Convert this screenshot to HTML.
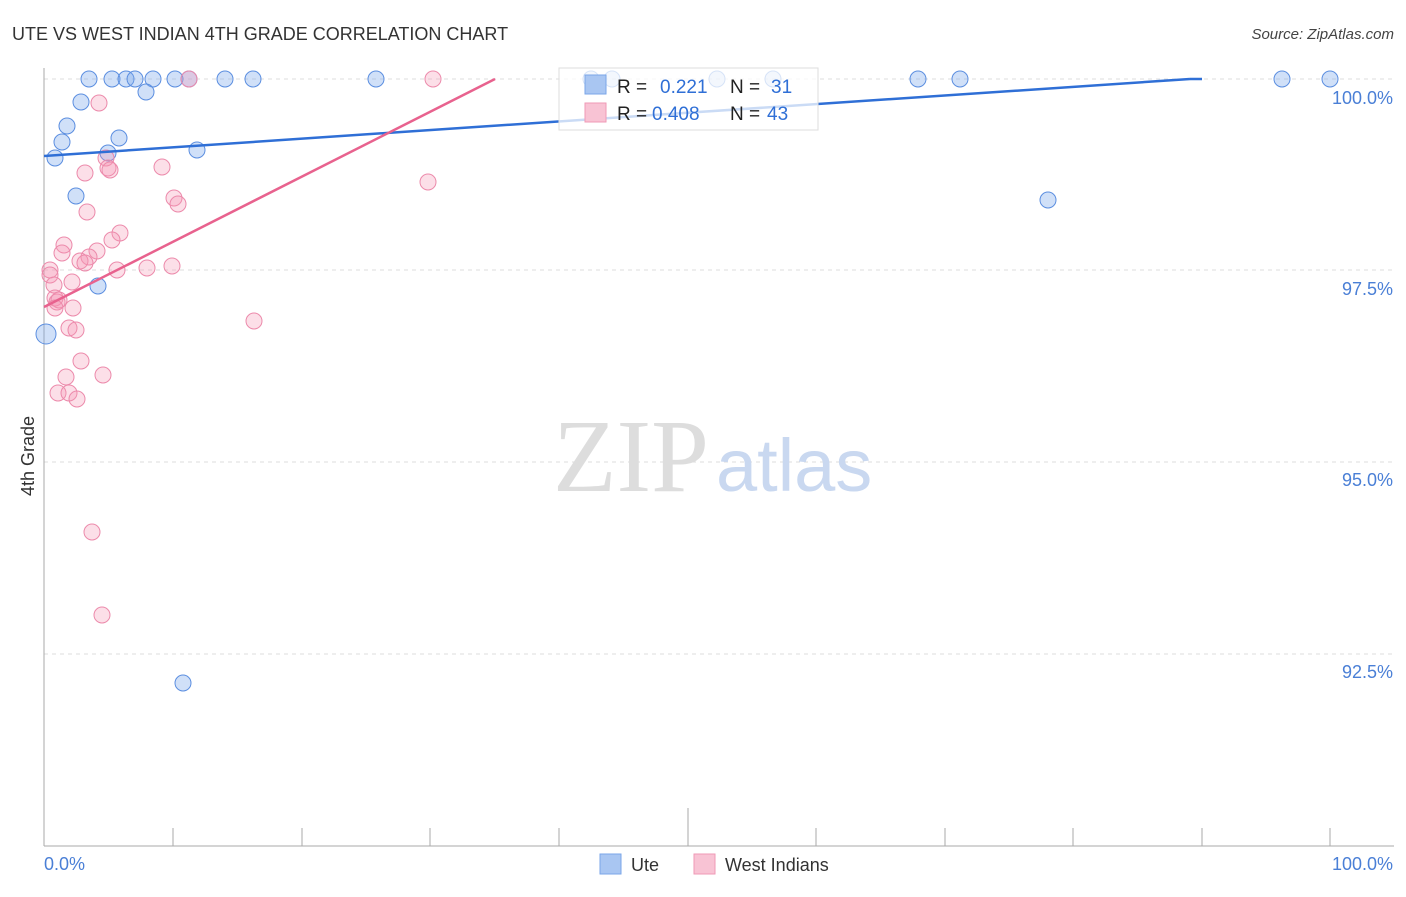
<!DOCTYPE html>
<html><head><style>
body{margin:0;background:#fff;font-family:"Liberation Sans",sans-serif;}
</style></head><body>
<svg width="1406" height="892" xmlns="http://www.w3.org/2000/svg" font-family="Liberation Sans, sans-serif">
<text x="12" y="40" font-size="18" fill="#333">UTE VS WEST INDIAN 4TH GRADE CORRELATION CHART</text>
<text x="1394" y="39" font-size="15" fill="#444" text-anchor="end" font-style="italic">Source: ZipAtlas.com</text>
<g stroke="#ddd" stroke-dasharray="4,4"><line x1="44" y1="79" x2="1394" y2="79"/><line x1="44" y1="270" x2="1394" y2="270"/><line x1="44" y1="462" x2="1394" y2="462"/><line x1="44" y1="654" x2="1394" y2="654"/></g>
<line x1="44" y1="68" x2="44" y2="846" stroke="#aaa"/>
<line x1="44" y1="846" x2="1394" y2="846" stroke="#aaa"/>
<g stroke="#aaa">
<line x1="173" y1="828" x2="173" y2="846"/><line x1="302" y1="828" x2="302" y2="846"/><line x1="430" y1="828" x2="430" y2="846"/><line x1="559" y1="828" x2="559" y2="846"/><line x1="688" y1="808" x2="688" y2="846"/><line x1="816" y1="828" x2="816" y2="846"/><line x1="945" y1="828" x2="945" y2="846"/><line x1="1073" y1="828" x2="1073" y2="846"/><line x1="1202" y1="828" x2="1202" y2="846"/><line x1="1330" y1="828" x2="1330" y2="846"/></g>
<g fill="#4a7fd6" font-size="18" text-anchor="end">
<text x="1393" y="104">100.0%</text><text x="1393" y="295">97.5%</text><text x="1393" y="486">95.0%</text><text x="1393" y="678">92.5%</text></g>
<text x="44" y="870" fill="#4a7fd6" font-size="18">0.0%</text>
<text x="1393" y="870" fill="#4a7fd6" font-size="18" text-anchor="end">100.0%</text>
<text x="34" y="456" font-size="18" fill="#333" text-anchor="middle" transform="rotate(-90 34 456)">4th Grade</text>
<text x="553" y="491" font-size="104" fill="#ddd" font-family="Liberation Serif, serif">ZIP</text>
<text x="716" y="491" font-size="74" fill="#c9d8f0">atlas</text>
<g fill="rgba(120,165,235,0.35)" stroke="#5b8ee0" stroke-width="1">
<circle cx="89" cy="79" r="8"/><circle cx="112" cy="79" r="8"/><circle cx="126" cy="79" r="8"/><circle cx="135" cy="79" r="8"/><circle cx="153" cy="79" r="8"/><circle cx="175" cy="79" r="8"/><circle cx="189" cy="79" r="8"/><circle cx="225" cy="79" r="8"/><circle cx="253" cy="79" r="8"/><circle cx="376" cy="79" r="8"/><circle cx="591" cy="79" r="8"/><circle cx="612" cy="79" r="8"/><circle cx="717" cy="79" r="8"/><circle cx="773" cy="79" r="8"/><circle cx="918" cy="79" r="8"/><circle cx="960" cy="79" r="8"/><circle cx="1282" cy="79" r="8"/><circle cx="1330" cy="79" r="8"/><circle cx="146" cy="92" r="8"/><circle cx="81" cy="102" r="8"/><circle cx="67" cy="126" r="8"/><circle cx="62" cy="142" r="8"/><circle cx="119" cy="138" r="8"/><circle cx="55" cy="158" r="8"/><circle cx="108" cy="153" r="8"/><circle cx="197" cy="150" r="8"/><circle cx="76" cy="196" r="8"/><circle cx="1048" cy="200" r="8"/><circle cx="98" cy="286" r="8"/><circle cx="46" cy="334" r="10"/><circle cx="183" cy="683" r="8"/></g>
<g fill="rgba(245,150,180,0.3)" stroke="#ec8aab" stroke-width="1">
<circle cx="189" cy="79" r="8"/><circle cx="433" cy="79" r="8"/><circle cx="99" cy="103" r="8"/><circle cx="162" cy="167" r="8"/><circle cx="106" cy="158" r="8"/><circle cx="108" cy="168" r="8"/><circle cx="110" cy="170" r="8"/><circle cx="85" cy="173" r="8"/><circle cx="428" cy="182" r="8"/><circle cx="174" cy="198" r="8"/><circle cx="178" cy="204" r="8"/><circle cx="87" cy="212" r="8"/><circle cx="120" cy="233" r="8"/><circle cx="112" cy="240" r="8"/><circle cx="64" cy="245" r="8"/><circle cx="62" cy="253" r="8"/><circle cx="97" cy="251" r="8"/><circle cx="89" cy="257" r="8"/><circle cx="80" cy="261" r="8"/><circle cx="85" cy="263" r="8"/><circle cx="117" cy="270" r="8"/><circle cx="147" cy="268" r="8"/><circle cx="172" cy="266" r="8"/><circle cx="50" cy="270" r="8"/><circle cx="50" cy="275" r="8"/><circle cx="72" cy="282" r="8"/><circle cx="54" cy="285" r="8"/><circle cx="55" cy="298" r="8"/><circle cx="57" cy="302" r="8"/><circle cx="59" cy="300" r="8"/><circle cx="73" cy="308" r="8"/><circle cx="55" cy="308" r="8"/><circle cx="254" cy="321" r="8"/><circle cx="69" cy="328" r="8"/><circle cx="76" cy="330" r="8"/><circle cx="81" cy="361" r="8"/><circle cx="103" cy="375" r="8"/><circle cx="66" cy="377" r="8"/><circle cx="58" cy="393" r="8"/><circle cx="69" cy="393" r="8"/><circle cx="77" cy="399" r="8"/><circle cx="92" cy="532" r="8"/><circle cx="102" cy="615" r="8"/></g>
<line x1="44" y1="156" x2="1190" y2="79" stroke="#2f6fd6" stroke-width="2.5"/>
<line x1="1190" y1="79" x2="1202" y2="79" stroke="#2f6fd6" stroke-width="2.5"/>
<line x1="44" y1="307" x2="495" y2="79" stroke="#e8628e" stroke-width="2.5"/>
<rect x="559" y="68" width="259" height="62" fill="rgba(255,255,255,0.75)" stroke="#ddd"/>
<rect x="585" y="75" width="21" height="19" fill="#a9c6f2" stroke="#7aa6e8"/>
<rect x="585" y="103" width="21" height="19" fill="#f8c3d4" stroke="#ef9ab6"/>
<g font-size="19"><text x="617" y="93" fill="#222">R =</text><text x="660" y="93" fill="#2f6fd6">0.221</text><text x="730" y="93" fill="#222">N =</text><text x="771" y="93" fill="#2f6fd6">31</text>
<text x="617" y="120" fill="#222">R =</text><text x="652" y="120" fill="#2f6fd6">0.408</text><text x="730" y="120" fill="#222">N =</text><text x="767" y="120" fill="#2f6fd6">43</text></g>
<rect x="600" y="854" width="21" height="20" fill="#a9c6f2" stroke="#7aa6e8"/>
<text x="631" y="871" font-size="18" fill="#333">Ute</text>
<rect x="694" y="854" width="21" height="20" fill="#f8c3d4" stroke="#ef9ab6"/>
<text x="725" y="871" font-size="18" fill="#333">West Indians</text>
</svg>
</body></html>
